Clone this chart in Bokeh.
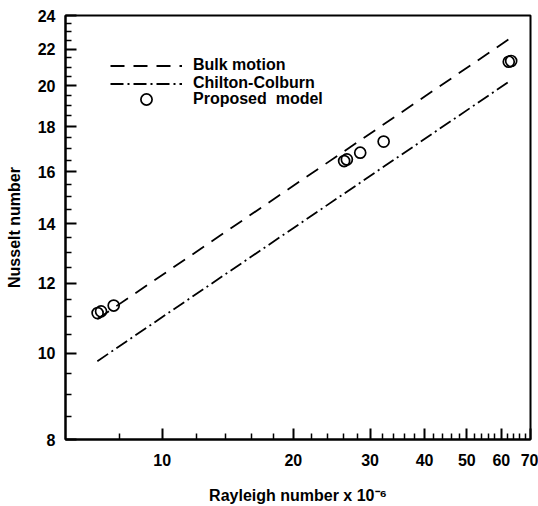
from bokeh.plotting import figure
from bokeh.models import FixedTicker, Legend, LegendItem, Range1d, BasicTickFormatter
from bokeh.embed import file_html
from bokeh.resources import INLINE

# ---- data ----
ra_line = [7.1, 62.3]
nu_bulk = [10.93, 22.55]
nu_chilton = [9.80, 20.2]

ra_model = [7.11, 7.24, 7.74, 26.15, 26.53, 28.47, 32.22, 62.4, 63.2]
nu_model = [11.10, 11.15, 11.32, 16.46, 16.53, 16.82, 17.31, 21.29, 21.33]

x_major = [10, 20, 30, 40, 50, 60, 70]
x_minor = [8, 12, 14, 16, 18, 22, 24, 26, 28, 32, 34, 36, 38, 42, 44, 46, 48,
           52, 54, 56, 58, 62, 64, 66, 68]
y_major = [8, 10, 12, 14, 16, 18, 20, 22, 24]
y_minor = [8.5, 9, 9.5, 10.5, 11, 11.5, 12.5, 13, 13.5, 14.5, 15, 15.5, 16.5, 17,
           17.5, 18.5, 19, 19.5, 20.5, 21, 21.5, 22.5, 23, 23.5]

FONT = "Liberation Sans"

p = figure(width=538, height=506, x_axis_type="log", y_axis_type="log",
           x_range=Range1d(6, 70), y_range=Range1d(8, 24),
           output_backend="svg", toolbar_location=None,
           min_border_left=65, min_border_right=8, min_border_top=15,
           min_border_bottom=66)

p.grid.visible = False
p.outline_line_color = "black"
p.outline_line_width = 2
p.outline_line_alpha = 1

p.xaxis.ticker = FixedTicker(ticks=x_major, minor_ticks=x_minor)
p.yaxis.ticker = FixedTicker(ticks=y_major, minor_ticks=y_minor)
p.xaxis.formatter = BasicTickFormatter()
p.yaxis.formatter = BasicTickFormatter()

for ax in (p.xaxis[0], p.yaxis[0]):
    ax.axis_line_width = 2
    ax.axis_line_color = "black"
    ax.major_tick_in = 11
    ax.major_tick_out = 0
    ax.minor_tick_in = 6
    ax.minor_tick_out = 0
    ax.major_tick_line_width = 2
    ax.minor_tick_line_width = 1.5
    ax.major_tick_line_color = "black"
    ax.minor_tick_line_color = "black"
    ax.major_label_text_font = FONT
    ax.major_label_text_font_size = "16px"
    ax.major_label_text_font_style = "bold"
    ax.major_label_text_color = "black"
    ax.axis_label_text_font = FONT
    ax.axis_label_text_font_size = "16px"
    ax.axis_label_text_font_style = "bold"
    ax.axis_label_text_color = "black"

p.xaxis.major_label_standoff = 14
p.yaxis.major_label_standoff = 10
p.xaxis.axis_label = "Rayleigh number x 10\u207b\u2076"
p.yaxis.axis_label = "Nusselt number"
p.xaxis.axis_label_standoff = 18
p.yaxis.axis_label_standoff = 12

r_bulk = p.line(ra_line, nu_bulk, line_color="black", line_width=1.8, line_dash="14 9")
r_cc = p.line(ra_line, nu_chilton, line_color="black", line_width=1.8, line_dash="13 4 2 4")
r_pm = p.scatter(ra_model, nu_model, marker="circle", size=11, fill_color=None,
                 line_color="black", line_width=1.7)

legend_lines = Legend(items=[LegendItem(label="Bulk motion", renderers=[r_bulk]),
                             LegendItem(label="Chilton-Colburn", renderers=[r_cc])],
                      location=(45, 440 - 93), glyph_width=72, glyph_height=17,
                      label_height=17, spacing=0, padding=0, margin=0,
                      label_standoff=11, border_line_color=None,
                      background_fill_alpha=0, label_text_font=FONT,
                      label_text_font_size="16px", label_text_font_style="bold",
                      label_text_color="black")
legend_pts = Legend(items=[LegendItem(label="Proposed  model", renderers=[r_pm])],
                    location=(45, 440 - 114), glyph_width=72, glyph_height=28,
                    label_height=28, spacing=0, padding=0, margin=0,
                    label_standoff=11, border_line_color=None,
                    background_fill_alpha=0, label_text_font=FONT,
                    label_text_font_size="16px", label_text_font_style="bold",
                    label_text_color="black")
p.add_layout(legend_lines)
p.add_layout(legend_pts)

open("out.html", "w").write(file_html(p, INLINE))
